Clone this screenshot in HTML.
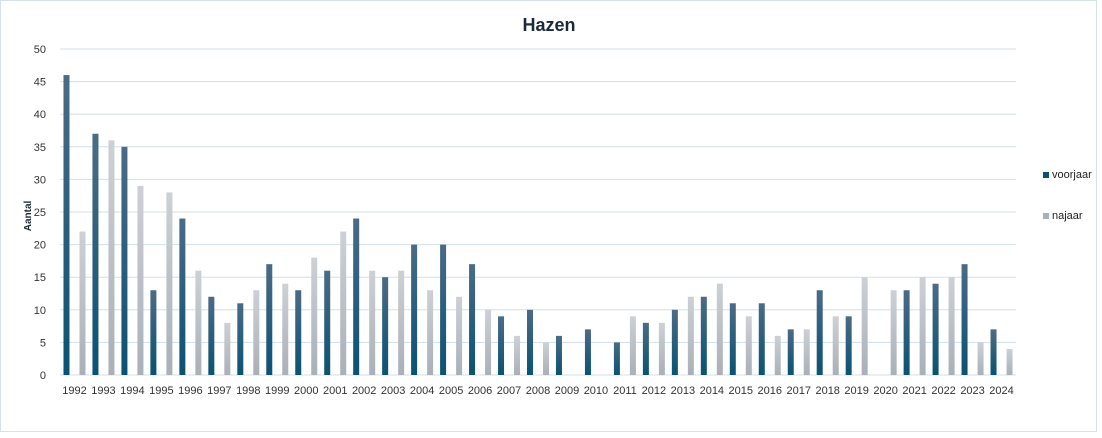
<!DOCTYPE html><html><head><style>body{margin:0;background:#fff}svg{display:block;font-family:"Liberation Sans",sans-serif}</style></head><body>
<svg id="s" width="1102" height="438" xmlns="http://www.w3.org/2000/svg">
<defs>
<linearGradient id="gv" x1="0" y1="0" x2="0" y2="1"><stop offset="0" stop-color="#4b6b86"/><stop offset="1" stop-color="#0a5273"/></linearGradient>
<linearGradient id="gn" x1="0" y1="0" x2="0" y2="1"><stop offset="0" stop-color="#cdd1d6"/><stop offset="1" stop-color="#a9b0b8"/></linearGradient>
</defs>
<rect x="0.5" y="0.5" width="1096" height="431" fill="#fff" stroke="#d6e2ea"/>
<text x="549" y="31" text-anchor="middle" font-size="18" font-weight="bold" fill="#1a2a3a">Hazen</text>
<text transform="translate(31,216) rotate(-90)" text-anchor="middle" font-size="10" font-weight="bold" fill="#1a2a3a">Aantal</text>
<g id="g"></g>
<rect x="1043" y="172" width="6" height="6" fill="#0c5272"/><text x="1052" y="178" font-size="11" fill="#222">voorjaar</text>
<rect x="1043" y="213" width="6" height="6" fill="#aab1b9"/><text x="1052" y="219" font-size="11" fill="#222">najaar</text>
</svg>
<script>
var v=[46,37,35,13,24,12,11,17,13,16,24,15,20,20,17,9,10,6,7,5,8,10,12,11,11,7,13,9,0,13,14,17,7];
var n=[22,36,29,28,16,8,13,14,18,22,16,16,13,12,10,6,5,0,0,9,8,12,14,9,6,7,9,15,13,15,15,5,4];
var h='',y0=375,k=6.52,w=28.97;
for(var i=0;i<=10;i++){var y=y0-i*5*k;h+='<line x1="60" x2="1016" y1="'+y+'" y2="'+y+'" stroke="#d3e0e8"/>';
h+='<text x="46" y="'+(y+4)+'" text-anchor="end" font-size="11" fill="#333">'+(i*5)+'</text>';}
for(var j=0;j<33;j++){var c=60+w*j+w/2;
if(v[j])h+='<rect x="'+(c-11)+'" y="'+(y0-v[j]*k)+'" width="6" height="'+v[j]*k+'" fill="url(#gv)"/>';
if(n[j])h+='<rect x="'+(c+5)+'" y="'+(y0-n[j]*k)+'" width="6" height="'+n[j]*k+'" fill="url(#gn)"/>';
h+='<text x="'+c+'" y="394" text-anchor="middle" font-size="11" fill="#333">'+(1992+j)+'</text>';}
document.getElementById('g').innerHTML=h;
</script>
</body></html>
